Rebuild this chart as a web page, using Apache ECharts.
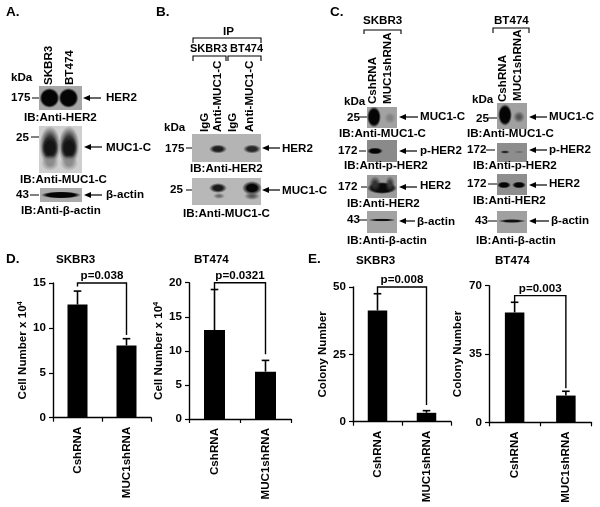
<!DOCTYPE html>
<html>
<head>
<meta charset="utf-8">
<style>html,body{margin:0;padding:0;background:#fff}#c{width:600px;height:507px}</style>
<script src="https://cdn.jsdelivr.net/npm/echarts@6/dist/echarts.min.js"></script>
</head>
<body>
<div id="c"></div>
<script>
// ---------- data ----------
const categories = ['CshRNA', 'MUC1shRNA'];
const d1Values = [12.6, 8.05];
const d1ErrTops = [14.1, 8.8];
const d2Values = [13.05, 6.95];
const d2ErrTops = [19, 8.6];
const e1Values = [41.3, 3.3];
const e1ErrTops = [47.5, 4.1];
const e2Values = [56.3, 13.7];
const e2ErrTops = [61.5, 15.9];
// bracket: level of the bar, end of left leg, end of right leg
const d1Bracket = [15, 14.6, 9.2];
const d2Bracket = [20, 19, 9.5];
const e1Bracket = [50, 47.5, 6.2];
const e2Bracket = [64.9, 61.5, 17.4];

const FONT = '"Liberation Sans", Arial, sans-serif';
const FS = 11.6;
const font = 'bold ' + FS + 'px ' + FONT;
const txt = {color:'#000', fontFamily:FONT, fontSize:FS, fontWeight:'bold'};

// ---------- panel charts ----------
const panels = [
  {left:53,  top:283,   width:98,  height:134.7, max:15, interval:5,  values:d1Values, errs:d1ErrTops, br:d1Bracket, p:'p=0.038',  name:'Cell Number x 10{s|4}', gap:20, bw:20},
  {left:189, top:282.7, width:102, height:136.3, max:20, interval:5,  values:d2Values, errs:d2ErrTops, br:d2Bracket, p:'p=0.0321', name:'Cell Number x 10{s|4}', gap:20, bw:21},
  {left:353, top:287,   width:98,  height:134.7, max:50, interval:25, values:e1Values, errs:e1ErrTops, br:e1Bracket, p:'p=0.008',  name:'Colony Number', gap:21, bw:19.5},
  {left:489, top:285.7, width:102.5, height:136.6, max:70, interval:35, values:e2Values, errs:e2ErrTops, br:e2Bracket, p:'p=0.003', name:'Colony Number', gap:25, bw:19.5}
];
const axisLine = {lineStyle:{color:'#000', width:1.4}};
const grid = [], xAxis = [], yAxis = [], series = [];
panels.forEach((p, i) => {
  grid.push({left:p.left, top:p.top, width:p.width, height:p.height});
  xAxis.push({type:'category', gridIndex:i, data:categories,
    axisLine:{show:true, onZero:false, ...axisLine},
    axisTick:{show:true, length:4, alignWithLabel:false, lineStyle:{color:'#000', width:1.2}},
    axisLabel:{rotate:90, interval:0, margin:9, ...txt}});
  yAxis.push({type:'value', gridIndex:i, min:0, max:p.max, interval:p.interval,
    splitLine:{show:false},
    axisLine:{show:true, ...axisLine},
    axisTick:{show:true, length:4, lineStyle:{color:'#000', width:1.2}},
    axisLabel:{margin:7, ...txt},
    name:p.name, nameLocation:'middle', nameGap:p.gap, nameRotate:90,
    nameTextStyle:{...txt, rich:{s:{color:'#000', fontFamily:FONT, fontSize:7.5, fontWeight:'bold', verticalAlign:'top', padding:[0,0,6,0]}}}});
  series.push({type:'bar', xAxisIndex:i, yAxisIndex:i, data:p.values, barWidth:p.bw,
    itemStyle:{color:'#000'}, silent:true, animation:false});
  series.push({type:'custom', xAxisIndex:i, yAxisIndex:i, silent:true, animation:false,
    data:p.errs.map((v, k) => [k, p.values[k], v]),
    renderItem(params, api){
      const a = api.coord([api.value(0), api.value(1)]);
      const b = api.coord([api.value(0), api.value(2)]);
      const st = {stroke:'#000', lineWidth:1.6, fill:null};
      return {type:'group', children:[
        {type:'line', shape:{x1:a[0], y1:a[1], x2:b[0], y2:b[1]}, style:st},
        {type:'line', shape:{x1:b[0]-3.8, y1:b[1], x2:b[0]+3.8, y2:b[1]}, style:st}
      ]};
    }});
  series.push({type:'custom', xAxisIndex:i, yAxisIndex:i, silent:true, animation:false,
    data:[p.br], clip:false,
    renderItem(params, api){
      const top = api.value(0), lEnd = api.value(1), rEnd = api.value(2);
      const a = api.coord([0, lEnd]), b = api.coord([0, top]), c = api.coord([1, top]), d = api.coord([1, rEnd]);
      return {type:'group', children:[
        {type:'polyline', shape:{points:[a,b,c,d]}, style:{stroke:'#000', lineWidth:1.4, fill:null}},
        {type:'text', x:(b[0]+c[0])/2, y:b[1]-1, style:{text:p.p, font:font, fill:'#000', align:'center', verticalAlign:'bottom'}}
      ]};
    }});
});

// ---------- figure furniture (labels, blots, arrows) ----------
const g = [];
const T = (text, x, y, size) => g.push({type:'text', x, y, z:20, style:{text, font:'bold '+(size||FS)+'px '+FONT, fill:'#000', align:'left', verticalAlign:'middle'}});
const V = (text, x, y) => g.push({type:'text', x, y, z:20, rotation:Math.PI/2, style:{text, font:font, fill:'#000', align:'left', verticalAlign:'middle'}});
const L = (pts, w) => g.push({type:'polyline', z:15, shape:{points:pts}, style:{stroke:'#000', lineWidth:w||1.1, fill:null}});
const ARROW = (xTip, xEnd, y) => {
  L([[xTip+4,y],[xEnd,y]], 1.2);
  g.push({type:'polygon', z:15, shape:{points:[[xTip,y],[xTip+7,y-3],[xTip+7,y+3]]}, style:{fill:'#000'}});
};
const TICK = (x1, x2, y) => L([[x1,y],[x2,y]], 1);
// band: [cx, cy, rx, ry, grey level, fraction of radius that is solid]
const BLOT = (x, y, w, h, bg, bands) => {
  g.push({type:'rect', z:5, shape:{x,y,width:w,height:h}, style:{fill:bg}});
  bands.forEach(b => {
    const c = 'rgba('+b[4]+','+b[4]+','+b[4]+',';
    g.push({type:'circle', z:6, x:b[0], y:b[1], scaleX:b[2]/10, scaleY:b[3]/10, shape:{cx:0, cy:0, r:10},
      style:{fill:new echarts.graphic.RadialGradient(0.5,0.5,0.5,[
        {offset:0, color:c+'1)'},{offset:b[5], color:c+'1)'},{offset:1, color:c+'0)'}])}});
  });
};

// Panel letters
T('A.', 6, 12, 13.5); T('B.', 156, 12, 13.5); T('C.', 330, 12, 13.5); T('D.', 6, 259, 13.5); T('E.', 308, 259, 13.5);

// Panel A
T('kDa', 11, 78); T('175', 11, 98); T('25', 16, 138); T('43', 16, 195);
V('SKBR3', 49, 85); V('BT474', 70, 85);
BLOT(39, 86, 43, 24, '#a6a6a6', [[49.5,98,10,10,5,.75],[68.5,98,10,10,5,.75]]);
TICK(32, 39, 98); ARROW(83, 101, 98);
T('HER2', 106, 98); T('IB:Anti-HER2', 24, 118);
BLOT(39, 126, 43, 47, '#cfcfcf', [
  [50,146,10.5,20,60,.5],[69,146,10.5,20,60,.5],
  [50,148,8.5,12,20,.55],[69,148,8.5,12,20,.55],
  [50,163,9,8,140,.3],[69,163,9,8,140,.3]]);
TICK(31, 39, 137); ARROW(84, 102, 147);
T('MUC1-C', 106, 148); T('IB:Anti-MUC1-C', 20, 180);
BLOT(40, 188, 42, 14, '#ababab', [[61,195,20,3.5,5,.7]]);
TICK(30, 39, 195); ARROW(84, 102, 195);
T('\u03B2-actin', 106, 195); T('IB:Anti-\u03B2-actin', 21, 211);

// Panel B
T('IP', 223, 32);
L([[193,43],[193,38],[261,38],[261,43]]);
T('SKBR3', 190, 49, 11); T('BT474', 230, 49, 11);
L([[193,61],[193,56],[226,56],[226,61]]);
L([[228,61],[228,56],[261,56],[261,61]]);
V('IgG', 205, 132); V('Anti-MUC1-C', 218, 132); V('IgG', 233, 132); V('Anti-MUC1-C', 250, 132);
T('kDa', 164, 128); T('175', 165, 149); T('25', 170, 190);
BLOT(192, 134, 69, 28, '#b4b4b4', [[218,149,9,4.5,30,.5],[252,149,9,4.5,40,.5]]);
TICK(186, 192, 148); ARROW(262, 280, 148);
T('HER2', 282, 149); T('IB:Anti-HER2', 190, 169);
BLOT(192, 178, 69, 27, '#b8b8b8', [[218,188,9,5,25,.5],[219,196,6,3,110,.3],[252,188,10,7,5,.5],[252,196,8,4,90,.3]]);
TICK(186, 192, 190); ARROW(262, 280, 190);
T('MUC1-C', 282, 191); T('IB:Anti-MUC1-C', 183, 214);

// Panel C - left
T('SKBR3', 363, 21); L([[364,34],[364,30],[401,30],[401,34]]);
V('CshRNA', 373, 104); V('MUC1shRNA', 388, 104);
T('kDa', 344, 102); T('25', 347, 118);
BLOT(367, 107, 30, 21, '#a2a2a2', [[374,117,7,10.5,5,.7],[390,118,6,6,130,.3]]);
TICK(359, 367, 117); ARROW(399, 418, 117);
T('MUC1-C', 420, 117); T('IB:Anti-MUC1-C', 339, 134);
T('172', 338, 151);
BLOT(367, 140, 30, 22, '#8a8a8a', [[375,151,8,3.5,5,.6]]);
TICK(359, 366, 151); ARROW(399, 417, 151);
T('p-HER2', 420, 151); T('IB:Anti-p-HER2', 344, 166);
T('172', 338, 187);
BLOT(367, 175, 30, 23, '#9c9c9c', [[382,188,15,6,10,.7],[375,184,6,8,50,.3],[390,184,5,8,60,.3]]);
TICK(361, 367, 187); ARROW(399, 417, 187);
T('HER2', 420, 186); T('IB:Anti-HER2', 347, 204);
T('43', 347, 220);
BLOT(367, 211, 30, 22, '#a3a3a3', [[382,220,14,1.6,15,.5]]);
TICK(359, 367, 220); ARROW(399, 415, 221);
T('\u03B2-actin', 417, 222); T('IB:Anti-\u03B2-actin', 347, 241);

// Panel C - right
T('BT474', 494, 21); L([[493,33],[493,28],[529,28],[529,33]]);
V('CshRNA', 503, 102); V('MUC1shRNA', 518, 101);
T('kDa', 472, 100); T('25', 476, 119);
BLOT(497, 103, 30, 26, '#a0a0a0', [[505,115,7,11,5,.7],[519,117,6,6,85,.3]]);
TICK(488, 497, 118); ARROW(529, 547, 117);
T('MUC1-C', 549, 117); T('IB:Anti-MUC1-C', 467, 134);
T('172', 467, 150);
BLOT(497, 143, 30, 19, '#8d8d8d', [[505,152,5,1.8,40,.4],[519,152,5,1.5,110,.3]]);
TICK(486, 495, 150); ARROW(529, 547, 150);
T('p-HER2', 549, 150); T('IB:Anti-p-HER2', 473, 166);
T('172', 467, 184);
BLOT(497, 174, 30, 21, '#8e8e8e', [[504,185,7,3.5,5,.6],[519,185,7,3.5,5,.6]]);
TICK(488, 497, 184); ARROW(529, 547, 185);
T('HER2', 549, 184); T('IB:Anti-HER2', 473, 201);
T('43', 475, 221);
BLOT(497, 211, 30, 22, '#a0a0a0', [[512,221,14,2,15,.5]]);
TICK(488, 497, 221); ARROW(529, 549, 221);
T('\u03B2-actin', 551, 221); T('IB:Anti-\u03B2-actin', 476, 241);

// Chart titles
T('SKBR3', 56, 260); T('BT474', 194, 260); T('SKBR3', 356, 261); T('BT474', 495, 261);

const chart = echarts.init(document.getElementById('c'), null, {renderer:'canvas', width:600, height:507});
chart.setOption({animation:false, backgroundColor:'#fff', grid, xAxis, yAxis, series, graphic:g});
</script>
</body>
</html>
